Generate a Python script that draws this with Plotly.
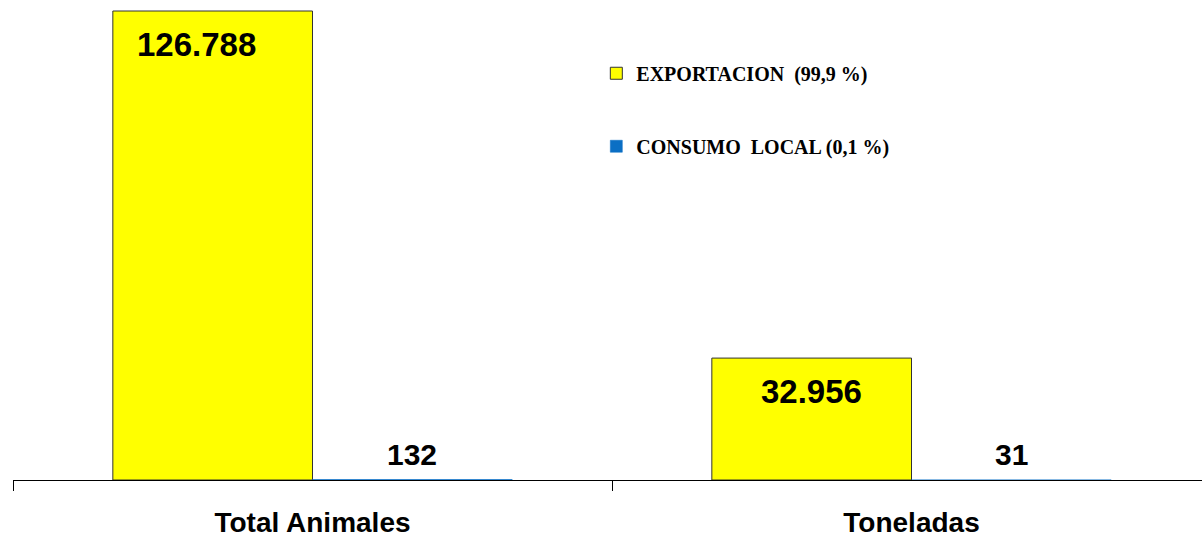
import plotly.graph_objects as go

categories = ["Total Animales", "Toneladas"]
exportacion = [126788, 32956]
consumo_local = [132, 31]
series_names = ["EXPORTACION  (99,9 %)", "CONSUMO  LOCAL (0,1 %)"]

YELLOW = "#FFFF00"
BLUE = "#0B6FC4"

def fmt(v):
    return f"{v:,}".replace(",", ".")

fig = go.Figure()
fig.add_trace(go.Bar(x=categories, y=exportacion, name=series_names[0],
                     marker=dict(color=YELLOW, line=dict(color="#333333", width=1)),
                     legendgroup="a", hoverinfo="skip"))
fig.add_trace(go.Bar(x=categories, y=consumo_local, name=series_names[1],
                     marker=dict(color=BLUE, line=dict(color=BLUE, width=0.5)),
                     legendgroup="b", hoverinfo="skip"))

ymax = max(exportacion) * 480 / 469

annotations = []
for i, (e, c) in enumerate(zip(exportacion, consumo_local)):
    annotations.append(dict(x=i - 1/6, y=e, xref="x", yref="y", text=fmt(e),
                            showarrow=False, yanchor="middle", yshift=-33,
                            xshift=-16 if i == 0 else 0,
                            font=dict(family="Liberation Sans", size=33, color="black", weight="bold")))
    annotations.append(dict(x=i + 1/6, y=c, xref="x", yref="y", text=fmt(c),
                            showarrow=False, yanchor="middle", yshift=25,
                            font=dict(family="Liberation Sans", size=30, color="black", weight="bold")))

fig.update_layout(
    width=1202, height=541,
    margin=dict(l=13, r=0, t=0, b=61, autoexpand=False),
    paper_bgcolor="white", plot_bgcolor="white",
    barmode="group", bargap=1/3, bargroupgap=0,
    showlegend=True,
    legend=dict(x=0.4906, y=0.888, xanchor="left", yanchor="top",
                bgcolor="rgba(0,0,0,0)", tracegroupgap=44,
                font=dict(family="Liberation Serif", size=20, color="black", weight="bold")),
    xaxis=dict(type="category", range=[-0.5, -0.5 + 1189/599], automargin=False,
               showline=True, linecolor="black", linewidth=1,
               ticks="outside", tickson="boundaries", ticklen=10, tickcolor="black",
               ticklabelstandoff=17,
               tickfont=dict(family="Liberation Sans", size=28, color="black", weight="bold"),
               showgrid=False, zeroline=False),
    yaxis=dict(range=[0, ymax], visible=False, showgrid=False, zeroline=False, automargin=False),
    annotations=annotations,
)

fig.write_html("out.html", config={"displayModeBar": False},
               post_script="document.body.style.margin='0';document.body.style.overflow='hidden';")
